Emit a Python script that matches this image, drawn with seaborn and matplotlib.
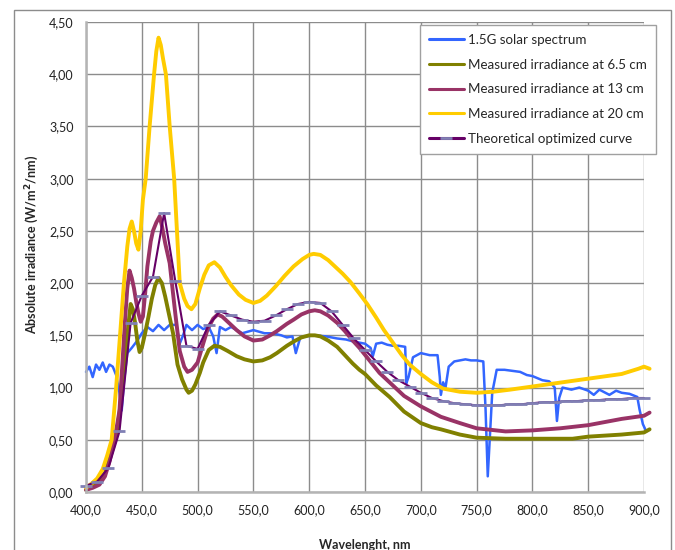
import matplotlib
matplotlib.use("Agg")
import matplotlib.pyplot as plt
import seaborn as sns
import pandas as pd
from matplotlib.patches import Rectangle
from matplotlib.ticker import FuncFormatter

# ---------------- data ----------------
wl_sun = [400, 403, 406, 409, 412, 415, 418, 421, 424, 427, 430, 432, 434, 437, 441, 446, 450, 455,
          460, 465, 470, 475, 481, 484, 487, 490, 495, 500, 505, 510, 514, 517, 520, 525, 530, 540,
          550, 560, 567, 575, 580, 585, 588, 592, 597, 605, 615, 625, 633, 640, 645, 650, 655, 657,
          660, 665, 670, 675, 680, 686, 687, 689, 693, 700, 708, 715, 717, 718, 720, 722, 725, 730,
          735, 740, 745, 750, 756, 758, 760, 762, 764, 768, 775, 782, 789, 795, 800, 809, 815, 820,
          822, 824, 827, 835, 842, 850, 855, 860, 869, 875, 880, 887, 894, 896, 899, 902, 905]
irr_sun = [1.15, 1.20, 1.10, 1.22, 1.17, 1.24, 1.15, 1.22, 1.20, 1.12, 0.95, 0.78, 1.05, 1.33, 1.38,
           1.45, 1.52, 1.58, 1.54, 1.60, 1.55, 1.60, 1.60, 1.42, 1.50, 1.60, 1.55, 1.60, 1.56, 1.58,
           1.49, 1.33, 1.58, 1.55, 1.58, 1.52, 1.55, 1.52, 1.52, 1.50, 1.48, 1.49, 1.33, 1.48, 1.49,
           1.50, 1.49, 1.47, 1.46, 1.44, 1.43, 1.42, 1.38, 1.30, 1.42, 1.43, 1.41, 1.40, 1.40, 1.39,
           1.04, 1.10, 1.29, 1.33, 1.31, 1.31, 1.10, 0.93, 1.05, 0.99, 1.20, 1.25, 1.26, 1.27, 1.26,
           1.26, 1.25, 0.80, 0.15, 0.55, 0.95, 1.17, 1.17, 1.16, 1.15, 1.12, 1.11, 1.07, 1.06, 1.00,
           0.68, 0.90, 1.00, 0.98, 1.00, 0.97, 0.93, 0.98, 0.93, 0.97, 0.95, 0.94, 0.91, 0.79, 0.65,
           0.58, 0.60]

wl_65 = [400, 405, 412, 417, 421, 425, 428, 431, 433, 436, 438, 440, 442, 444, 446, 448, 450, 453,
         456, 459, 462, 465, 468, 471, 474, 478, 482, 486, 490, 492, 495, 498, 502, 505, 510, 515,
         520, 527, 535, 542, 550, 558, 565, 571, 580, 586, 593, 600, 605, 610, 617, 625, 632, 639,
         645, 650, 660, 672, 685, 700, 710, 718, 735, 750, 776, 800, 836, 850, 880, 900, 905]
irr_65 = [0.02, 0.05, 0.11, 0.18, 0.31, 0.45, 0.58, 0.85, 1.14, 1.40, 1.60, 1.80, 1.75, 1.62, 1.45,
          1.34, 1.38, 1.52, 1.68, 1.85, 1.98, 2.05, 2.00, 1.87, 1.72, 1.52, 1.22, 1.08, 0.98, 0.95,
          0.97, 1.03, 1.14, 1.24, 1.36, 1.40, 1.39, 1.35, 1.30, 1.27, 1.25, 1.26, 1.29, 1.33, 1.40,
          1.44, 1.48, 1.50, 1.50, 1.49, 1.45, 1.39, 1.31, 1.23, 1.17, 1.13, 1.02, 0.91, 0.77, 0.66,
          0.62, 0.60, 0.55, 0.52, 0.51, 0.51, 0.51, 0.53, 0.55, 0.57, 0.60]

wl_13 = [400, 406, 412, 417, 421, 425, 428, 430, 433, 435, 437, 439, 441, 443, 445, 447, 449, 451,
         453, 455, 458, 460, 463, 466, 468, 471, 475, 478, 480, 484, 488, 491, 495, 500, 505, 509,
         514, 518, 522, 528, 535, 542, 550, 558, 565, 571, 580, 586, 593, 600, 605, 610, 617, 625,
         632, 639, 645, 654, 663, 672, 685, 700, 718, 735, 750, 776, 800, 825, 850, 880, 900, 905]
irr_13 = [0.02, 0.04, 0.07, 0.15, 0.29, 0.48, 0.65, 0.78, 1.30, 1.65, 1.95, 2.12, 2.05, 1.95, 1.82,
          1.71, 1.63, 1.68, 1.90, 2.16, 2.40, 2.50, 2.58, 2.64, 2.55, 2.38, 2.19, 1.90, 1.71, 1.35,
          1.20, 1.15, 1.17, 1.24, 1.42, 1.56, 1.66, 1.70, 1.68, 1.62, 1.55, 1.49, 1.45, 1.46, 1.50,
          1.54, 1.61, 1.65, 1.70, 1.73, 1.74, 1.73, 1.69, 1.62, 1.54, 1.45, 1.38, 1.26, 1.14, 1.05,
          0.92, 0.82, 0.72, 0.66, 0.61, 0.58, 0.59, 0.61, 0.64, 0.70, 0.73, 0.76]

wl_20 = [400, 405, 410, 415, 419, 423, 427, 430.5, 434, 437, 439, 441, 443, 445, 447, 449, 451,
         453.5, 457, 461, 463, 465, 467, 469, 471.6, 475, 479, 481.5, 484, 488, 491, 494.5, 498,
         502, 506, 510, 515, 520, 525, 530, 537, 543, 550, 556, 562, 570, 578, 586, 594, 600, 604,
         610, 617, 624, 630, 637, 645, 652, 660, 667, 675, 683, 690, 700, 710, 720, 735, 750, 765,
         780, 800, 820, 840, 860, 880, 895, 900, 905]
irr_20 = [0.04, 0.08, 0.13, 0.22, 0.35, 0.50, 1.00, 1.50, 2.00, 2.35, 2.52, 2.59, 2.50, 2.38, 2.32,
          2.50, 2.80, 3.00, 3.50, 4.00, 4.22, 4.35, 4.28, 4.15, 4.00, 3.50, 3.00, 2.50, 2.00, 1.85,
          1.78, 1.75, 1.80, 1.95, 2.08, 2.17, 2.20, 2.15, 2.06, 1.98, 1.89, 1.84, 1.81, 1.83, 1.88,
          1.97, 2.07, 2.16, 2.23, 2.27, 2.28, 2.27, 2.22, 2.15, 2.09, 2.01, 1.90, 1.80, 1.67, 1.55,
          1.43, 1.31, 1.22, 1.13, 1.05, 0.99, 0.96, 0.95, 0.96, 0.98, 1.01, 1.04, 1.07, 1.10, 1.13,
          1.18, 1.20, 1.18]

wl_th = [400, 410, 420, 430, 440, 450, 460, 470, 480, 490, 500, 510, 520, 530, 540, 550, 560, 570,
         580, 590, 600, 610, 620, 630, 640, 650, 660, 670, 680, 690, 700, 710, 720, 730, 740, 750,
         760, 770, 780, 790, 800, 810, 820, 830, 840, 850, 860, 870, 880, 890, 900]
irr_th = [0.06, 0.10, 0.23, 0.58, 1.62, 1.88, 2.06, 2.67, 2.02, 1.40, 1.37, 1.60, 1.73, 1.69, 1.65,
          1.63, 1.64, 1.69, 1.75, 1.80, 1.82, 1.81, 1.73, 1.60, 1.47, 1.36, 1.25, 1.15, 1.07, 1.01,
          0.95, 0.90, 0.87, 0.85, 0.84, 0.83, 0.83, 0.83, 0.84, 0.84, 0.85, 0.86, 0.86, 0.87, 0.87,
          0.88, 0.88, 0.89, 0.89, 0.90, 0.90]

labels = ["1.5G solar spectrum", "Measured irradiance at 6.5 cm", "Measured irradiance at 13 cm",
          "Measured irradiance at 20 cm", "Theoretical optimized curve"]
colors = ["#3366FF", "#808000", "#993366", "#FFCC00", "#660066"]
x_ticks = [400, 450, 500, 550, 600, 650, 700, 750, 800, 850, 900]
y_ticks = [0, 0.5, 1.0, 1.5, 2.0, 2.5, 3.0, 3.5, 4.0, 4.5]

# ---------------- plot ----------------
sns.set_style("white")
plt.rcParams["font.family"] = ["Lato", "DejaVu Sans"]

fig = plt.figure(figsize=(6.75, 5.5), dpi=100)
ax = fig.add_axes([86 / 675, 58 / 550, 558 / 675, 470 / 550])

series = [(wl_sun, irr_sun, 1.8), (wl_65, irr_65, 2.8), (wl_13, irr_13, 2.8), (wl_20, irr_20, 2.8)]
for (x, y, lw), lab, col in zip(series, labels[:4], colors[:4]):
    df = pd.DataFrame({"wl": x, "irr": y})
    sns.lineplot(data=df, x="wl", y="irr", ax=ax, color=col, lw=lw, label=lab, estimator=None)

df_th = pd.DataFrame({"wl": wl_th, "irr": irr_th})
sns.lineplot(data=df_th, x="wl", y="irr", ax=ax, color=colors[4], lw=1.5, label=labels[4],
             marker="_", markersize=9, markeredgewidth=2, markeredgecolor="#8080B4",
             markerfacecolor="#8080B4", estimator=None)

for ln in ax.lines:
    ln.set_clip_on(False)

ax.set_xlim(400, 900)
ax.set_ylim(0, 4.5)
ax.set_xticks(x_ticks)
ax.set_yticks(y_ticks)
ax.xaxis.set_major_formatter(FuncFormatter(lambda v, p: f"{v:.1f}".replace(".", ",")))
ax.yaxis.set_major_formatter(FuncFormatter(lambda v, p: f"{v:.2f}".replace(".", ",")))
ax.tick_params(axis="both", labelsize=9, colors="#222222", length=5, width=1,
               direction="out", pad=4)
ax.tick_params(axis="both", color="#A6A6A6")
ax.grid(True, color="#8C8C8C", lw=1)
ax.set_axisbelow(True)
for s in ["top", "right"]:
    ax.spines[s].set_visible(False)
for s in ["left", "bottom"]:
    ax.spines[s].set_color("#B4B4B4")
    ax.spines[s].set_linewidth(1.8)

ax.set_xlabel("Wavelenght, nm", fontsize=9, fontweight="bold", va="center")
ax.xaxis.set_label_coords(0.5, -0.113)
ax.set_ylabel(r"Absolute irradiance (W/m$^{\mathbf{2}}$/nm)", fontsize=9, fontweight="bold",
              va="center")
ax.yaxis.set_label_coords(-0.097, 0.527)

leg = ax.legend(loc="upper left", bbox_to_anchor=(0.598, 0.994), fontsize=9.6,
                frameon=True, fancybox=False, edgecolor="#A0A0A0", framealpha=1,
                handlelength=2.6, handletextpad=0.3, labelspacing=0.95, borderpad=0.7,
                borderaxespad=0)
leg.get_frame().set_linewidth(1)
for h in leg.get_lines():
    h.set_linewidth(2.2)

fig.add_artist(Rectangle((14 / 675, -0.05), 657 / 675, 1 - 10 / 550 + 0.05, transform=fig.transFigure,
                         fill=False, edgecolor="#8C8C8C", lw=1))

fig.savefig("out.png", dpi=100)
